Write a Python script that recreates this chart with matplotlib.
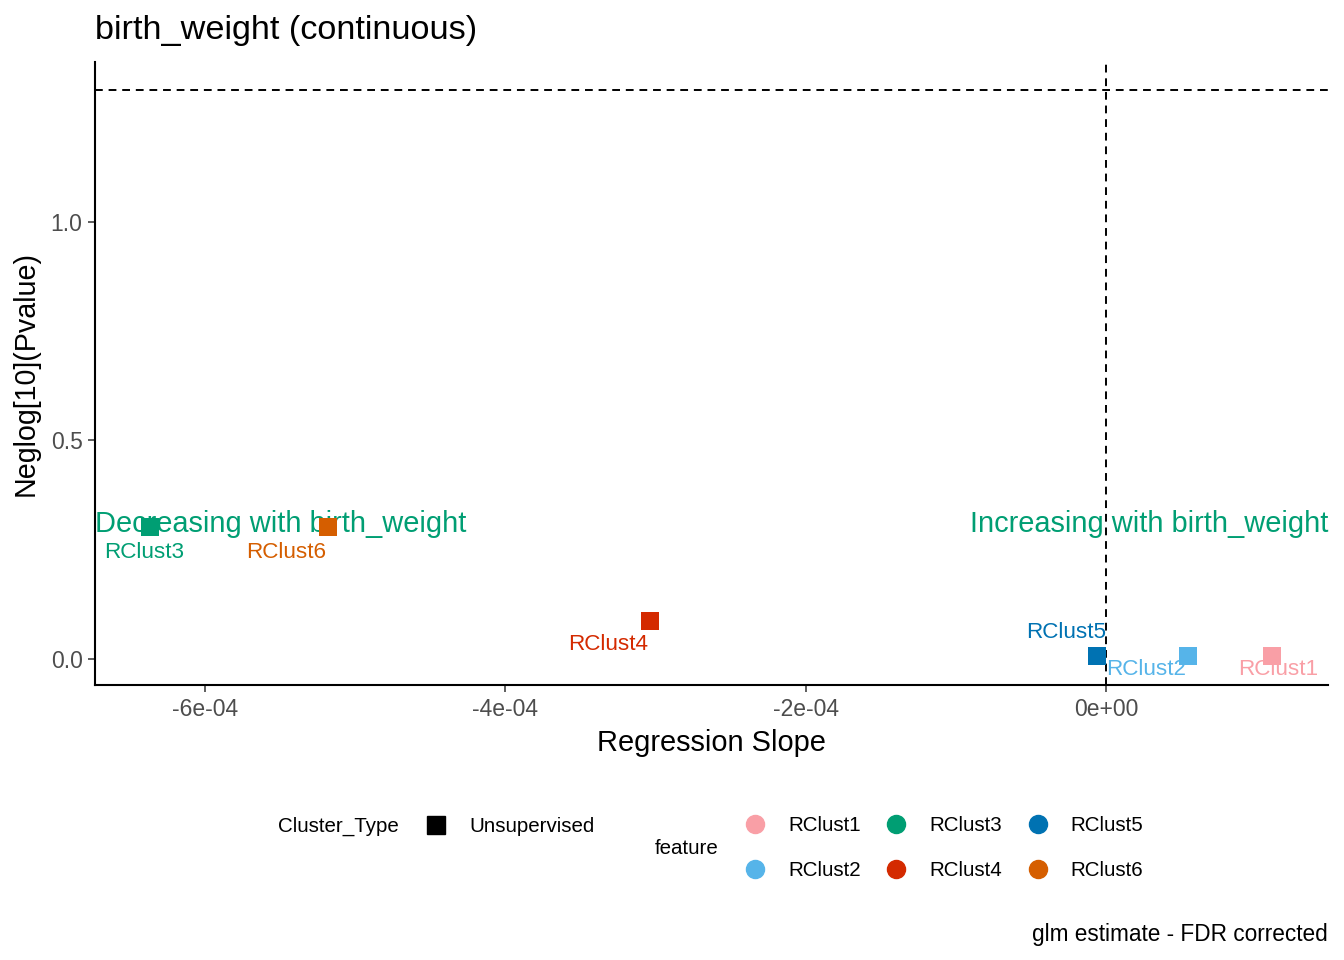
import matplotlib
matplotlib.use('Agg')
import matplotlib.pyplot as plt
from matplotlib.lines import Line2D
import numpy as np

plt.rcParams['font.family'] = ['Liberation Sans', 'DejaVu Sans']

# data
features = ['RClust1', 'RClust2', 'RClust3', 'RClust4', 'RClust5', 'RClust6']
slopes = [1.106e-4, 5.46e-5, -6.367e-4, -3.037e-4, -6.0e-6, -5.18e-4]
neglogp = [0.007, 0.007, 0.302, 0.087, 0.007, 0.302]
colors = ['#F99FA6', '#56B4E9', '#009E73', '#D42A00', '#0072B2', '#D55E00']
# label offsets in points (ggrepel placement)
label_dx = [4, -30, -4, -30, -22, -30]
label_dy = [-10, -10, -18, -17, 17, -18]

x_ticks = [-6e-4, -4e-4, -2e-4, 0]
x_labels = ['-6e-04', '-4e-04', '-2e-04', '0e+00']
y_ticks = [0.0, 0.5, 1.0]
y_labels = ['0.0', '0.5', '1.0']
pval_cut = -np.log10(0.05)

fig = plt.figure(figsize=(13.44, 9.6), dpi=100)
ax = fig.add_axes([95/1344, 1 - 685/960, (1328-95)/1344, (685-62)/960])

ax.set_xlim(-6.733e-4, 1.478e-4)
ax.set_ylim(-0.0595, 1.366)

# threshold lines
ax.axhline(pval_cut, color='black', lw=1.4, dashes=(4, 3), zorder=1)
ax.axvline(0, color='black', lw=1.4, dashes=(4, 3), zorder=1)

# direction annotations
ax.text(-6.733e-4, 0.308, 'Decreasing with birth_weight', color='#009E73',
        fontsize=20.9, ha='left', va='center', zorder=2)
ax.text(1.478e-4, 0.308, 'Increasing with birth_weight', color='#009E73',
        fontsize=20.9, ha='right', va='center', zorder=2)

# points
ax.scatter(slopes, neglogp, c=colors, marker='s', s=175, linewidths=0, zorder=3)

# labels
for f, x, y, c, dx, dy in zip(features, slopes, neglogp, colors, label_dx, label_dy):
    ax.annotate(f, (x, y), xytext=(dx, dy), textcoords='offset points',
                color=c, fontsize=16.2, ha='center', va='center', zorder=4)

ax.set_xticks(x_ticks)
ax.set_xticklabels(x_labels)
ax.set_yticks(y_ticks)
ax.set_yticklabels(y_labels)
ax.tick_params(axis='both', length=5, width=1.1, color='#333333',
               labelcolor='#4D4D4D', labelsize=16.5, pad=4)
for s in ['top', 'right']:
    ax.spines[s].set_visible(False)
for s in ['left', 'bottom']:
    ax.spines[s].set_linewidth(1.5)

ax.set_xlabel('Regression Slope', fontsize=20.9, labelpad=6)
ax.set_ylabel('Neglog[10](Pvalue)', fontsize=20.6, labelpad=8)

fig.text(95/1344, 1 - 31/960, 'birth_weight (continuous)', fontsize=24.7,
         ha='left', va='center')
fig.text(1328/1344, 1 - 934/960, 'glm estimate - FDR corrected', fontsize=16.3,
         ha='right', va='center')

# legends
fig.text(278/1344, 1 - 826/960, 'Cluster_Type', fontsize=14.8, ha='left', va='center')
fig.text(655/1344, 1 - 849/960, 'feature', fontsize=14.8, ha='left', va='center')

h_type = [Line2D([], [], marker='s', color='black', ls='', markersize=13)]
leg1 = fig.legend(h_type, ['Unsupervised'], loc='center left',
                  bbox_to_anchor=(424/1344, 1 - 827/960), frameon=False,
                  fontsize=14.8, handlelength=1.2, handletextpad=1.0,
                  borderpad=0, borderaxespad=0)

h_feat = [Line2D([], [], marker='o', color=c, ls='', markersize=13) for c in colors]
leg2 = fig.legend(h_feat, features, ncol=3, loc='center left',
                  bbox_to_anchor=(743/1344, 1 - 848/960), frameon=False,
                  fontsize=14.8, handlelength=1.2, handletextpad=1.0,
                  columnspacing=1.13, labelspacing=1.25,
                  borderpad=0, borderaxespad=0)

fig.savefig('out.png', dpi=100)
